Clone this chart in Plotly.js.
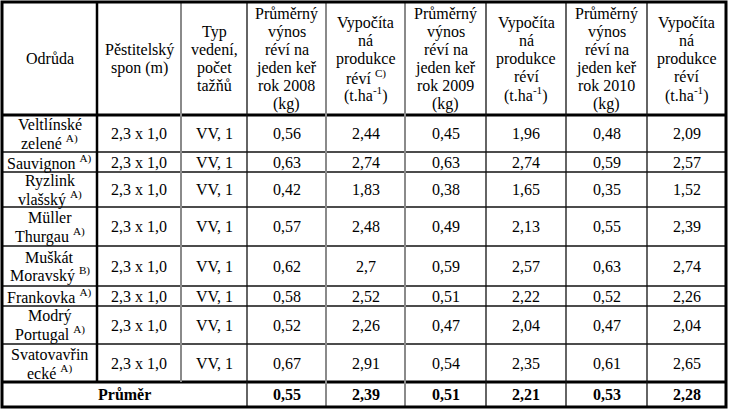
<!DOCTYPE html>
<html>
<head>
<meta charset="utf-8">
<script src="https://cdn.plot.ly/plotly-3.0.1.min.js"></script>
<style>
  body { margin: 0; background: #fff; }
  #tabulka { width: 730px; height: 409px; }
</style>
</head>
<body>
<div id="tabulka"></div>
<script>
// Hlavička tabulky
var hlavicka = [
    'Odrůda',
    'Pěstitelský<br>spon (m)',
    'Typ<br>vedení,<br>počet<br>tažňů',
    'Průměrný<br>výnos<br>réví na<br>jeden keř<br>rok 2008<br>(kg)',
    'Vypočíta<br>ná<br>produkce<br>réví <sup>C)</sup><br>(t.ha<sup>-1</sup>)',
    'Průměrný<br>výnos<br>réví na<br>jeden keř<br>rok 2009<br>(kg)',
    'Vypočíta<br>ná<br>produkce<br>réví<br>(t.ha<sup>-1</sup>)',
    'Průměrný<br>výnos<br>réví na<br>jeden keř<br>rok 2010<br>(kg)',
    'Vypočíta<br>ná<br>produkce<br>réví<br>(t.ha<sup>-1</sup>)'
];

// Odrůdy a pěstitelské údaje
var odrudy = [
    'Veltlínské<br>zelené <sup>A)</sup>',
    'Sauvignon <sup>A)</sup>',
    'Ryzlink<br>vlašský <sup>A)</sup>',
    'Müller<br>Thurgau <sup>A)</sup>',
    'Muškát<br>Moravský <sup>B)</sup>',
    'Frankovka <sup>A)</sup>',
    'Modrý<br>Portugal <sup>A)</sup>',
    'Svatovavřin<br>ecké <sup>A)</sup>'
];
var spon = ['2,3 x 1,0', '2,3 x 1,0', '2,3 x 1,0', '2,3 x 1,0', '2,3 x 1,0', '2,3 x 1,0', '2,3 x 1,0', '2,3 x 1,0'];
var typVedeni = ['VV, 1', 'VV, 1', 'VV, 1', 'VV, 1', 'VV, 1', 'VV, 1', 'VV, 1', 'VV, 1'];

// Výnosy na keř (kg) a vypočítaná produkce (t/ha)
var vynos2008 = [0.56, 0.63, 0.42, 0.57, 0.62, 0.58, 0.52, 0.67];
var produkce2008 = [2.44, 2.74, 1.83, 2.48, 2.7, 2.52, 2.26, 2.91];
var vynos2009 = [0.45, 0.63, 0.38, 0.49, 0.59, 0.51, 0.47, 0.54];
var produkce2009 = [1.96, 2.74, 1.65, 2.13, 2.57, 2.22, 2.04, 2.35];
var vynos2010 = [0.48, 0.59, 0.35, 0.55, 0.63, 0.52, 0.47, 0.61];
var produkce2010 = [2.09, 2.57, 1.52, 2.39, 2.74, 2.26, 2.04, 2.65];

// Řádek Průměr
var prumerPopis = 'Průměr';
var prumer = [0.55, 2.39, 0.51, 2.21, 0.53, 2.28];

// Rozměry tabulky (px)
var sirkySloupcu = [95, 84, 66, 79, 79, 81, 80, 81, 79];
var vyskyRadku = [113, 37, 20, 35, 39, 40, 20, 38, 38, 25];
var X0 = 2, Y0 = 2;

function cislo(v) {
    return String(v).replace('.', ',');
}

function initTabulka() {
    // hranice sloupců a řádků
    var xs = [X0];
    sirkySloupcu.forEach(function(w) { xs.push(xs[xs.length - 1] + w); });
    var ys = [Y0];
    vyskyRadku.forEach(function(h) { ys.push(ys[ys.length - 1] + h); });
    var xEnd = xs[xs.length - 1], yEnd = ys[ys.length - 1];
    var yPrumer = ys[ys.length - 2];

    var annotations = [];
    function bunka(text, x, y, mezera, bold) {
        var radky = text.split('<br>');
        var n = radky.length;
        radky.forEach(function(r, i) {
            annotations.push({
                x: x, y: y, xref: 'x', yref: 'y',
                text: bold ? '<b>' + r + '</b>' : r,
                showarrow: false,
                xanchor: 'center', yanchor: 'middle',
                borderpad: 0,
                yshift: -(i - (n - 1) / 2) * mezera,
                font: {family: '"Liberation Serif", "Times New Roman", serif', size: 16, color: '#000'}
            });
        });
    }
    function stredX(c) { return (xs[c] + xs[c + 1]) / 2; }
    function stredY(r) { return (ys[r] + ys[r + 1]) / 2; }

    // hlavička
    hlavicka.forEach(function(t, c) { bunka(t, stredX(c), stredY(0), 18, false); });

    // data
    var sloupce = [odrudy, spon, typVedeni,
        vynos2008.map(cislo), produkce2008.map(cislo),
        vynos2009.map(cislo), produkce2009.map(cislo),
        vynos2010.map(cislo), produkce2010.map(cislo)];
    sloupce.forEach(function(sl, c) {
        sl.forEach(function(t, r) { bunka(t, stredX(c), stredY(r + 1), 17.5, false); });
    });

    // průměr
    var rP = vyskyRadku.length - 1;
    bunka(prumerPopis, (xs[0] + xs[3]) / 2, stredY(rP), 16, true);
    prumer.forEach(function(v, i) { bunka(cislo(v), stredX(i + 3), stredY(rP), 16, true); });

    // čáry
    var shapes = [];
    function cara(x0, y0, x1, y1, w, barva) {
        shapes.push({type: 'line', xref: 'x', yref: 'y', x0: x0, y0: y0, x1: x1, y1: y1,
            line: {color: barva, width: w}});
    }
    // vodorovné čáry mezi řádky
    for (var r = 2; r < ys.length - 2; r++) cara(xs[0], ys[r], xEnd, ys[r], 1.3, '#111');
    cara(xs[0], ys[1], xEnd, ys[1], 3, '#000');
    cara(xs[0], yPrumer, xEnd, yPrumer, 3, '#000');
    // svislé čáry
    var sedeCary = [2, 4, 5];
    for (var c = 1; c < xs.length - 1; c++) {
        var dolni = c < 3 ? yPrumer : yEnd;
        if (c === 1) cara(xs[c], ys[0], xs[c], dolni, 2.5, '#000');
        else if (sedeCary.indexOf(c) >= 0) cara(xs[c], ys[0], xs[c], dolni, 2, '#8a8a8a');
        else cara(xs[c], ys[0], xs[c], dolni, 1.3, '#111');
    }
    // vnější rámeček
    shapes.push({type: 'rect', xref: 'x', yref: 'y', x0: xs[0], y0: ys[0], x1: xEnd, y1: yEnd,
        line: {color: '#000', width: 3}});

    var layout = {
        width: 730, height: 409,
        margin: {l: 0, r: 0, t: 0, b: 0},
        paper_bgcolor: '#fff', plot_bgcolor: '#fff',
        font: {family: '"Liberation Serif", serif', size: 16, color: '#000'},
        xaxis: {range: [0, 730], visible: false, fixedrange: true},
        yaxis: {range: [409, 0], visible: false, fixedrange: true},
        showlegend: false,
        annotations: annotations,
        shapes: shapes
    };

    Plotly.newPlot('tabulka', [], layout, {staticPlot: true, displayModeBar: false});
}

document.addEventListener('DOMContentLoaded', function() {
    initTabulka();
});
</script>
</body>
</html>
